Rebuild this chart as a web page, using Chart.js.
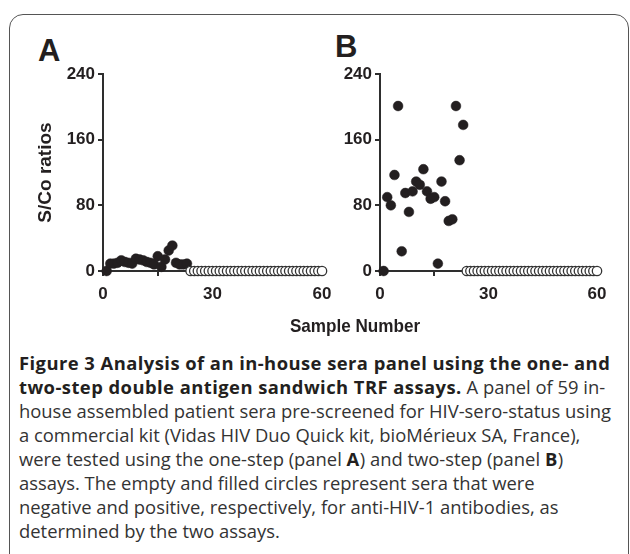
<!DOCTYPE html>
<html>
<head>
<meta charset="utf-8">
<script src="https://cdn.jsdelivr.net/npm/chart.js@4/dist/chart.umd.min.js"></script>
<style>
  html, body { margin: 0; padding: 0; background: #fff; width: 630px; height: 554px; overflow: hidden; }
  #box { position: absolute; left: 9px; top: 14px; width: 618px; height: 620px; border: 1.5px solid #555; border-radius: 14px; }
  .cv { position: absolute; top: 0; }
  .panel { position: absolute; font-family: "Liberation Sans", Arial, sans-serif; font-weight: bold; font-size: 31px; color: #231f20; line-height: 1; }
  #xtitle { position: absolute; left: 255px; width: 200px; text-align: center; top: 315px; font-family: "Liberation Sans", Arial, sans-serif; font-weight: bold; font-size: 19px; color: #231f20; transform: scaleX(0.9); transform-origin: 100px 0; }
  .cap { position: absolute; left: 19px; white-space: nowrap; font-family: "Open Sans", sans-serif; font-size: 18.4px; color: #333333; line-height: 1; }
  .cap b { font-weight: 700; color: #231f20; letter-spacing: 0.45px; }
</style>
</head>
<body>
<div id="box"></div>
<div class="panel" style="left:38px; top:35px;">A</div>
<div class="panel" style="left:335px; top:31px;">B</div>
<canvas id="chartA" class="cv" style="left:0px;" width="340" height="340"></canvas>
<canvas id="chartB" class="cv" style="left:300px;" width="330" height="340"></canvas>
<div id="xtitle">Sample Number</div>
<div class="cap" style="top:354px;"><b>Figure 3 Analysis of an in-house sera panel using the one- and</b></div>
<div class="cap" style="top:378px;"><b>two-step double antigen sandwich TRF assays.</b> A panel of 59 in-</div>
<div class="cap" style="top:402px;">house assembled patient sera pre-screened for HIV-sero-status using</div>
<div class="cap" style="top:426px;">a commercial kit (Vidas HIV Duo Quick kit, bioMérieux SA, France),</div>
<div class="cap" style="top:450px;">were tested using the one-step (panel <b>A</b>) and two-step (panel <b>B</b>)</div>
<div class="cap" style="top:474px;">assays. The empty and filled circles represent sera that were</div>
<div class="cap" style="top:498px;">negative and positive, respectively, for anti-HIV-1 antibodies, as</div>
<div class="cap" style="top:522px;">determined by the two assays.</div>
<script>
// ---- data ----
const positiveSamples = [1, 2, 3, 4, 5, 6, 7, 8, 9, 10, 11, 12, 13, 14, 15, 16, 17, 18, 19, 20, 21, 22, 23];
const oneStepPositive = [0, 9, 9, 10, 13, 11, 10, 9, 15, 14, 13, 11, 10, 8, 18, 5, 14, 25, 31, 10, 8, 8, 9];
const twoStepPositive = [0, 90, 80, 117, 201, 24, 95, 72, 97, 109, 105, 124, 97, 88, 90, 9, 109, 85, 61, 63, 201, 135, 178];
const negativeSamples = [24, 25, 26, 27, 28, 29, 30, 31, 32, 33, 34, 35, 36, 37, 38, 39, 40, 41, 42, 43, 44, 45, 46, 47, 48, 49, 50, 51, 52, 53, 54, 55, 56, 57, 58, 59, 60];
const oneStepNegative = [0, 0, 0, 0, 0, 0, 0, 0, 0, 0, 0, 0, 0, 0, 0, 0, 0, 0, 0, 0, 0, 0, 0, 0, 0, 0, 0, 0, 0, 0, 0, 0, 0, 0, 0, 0, 0];
const twoStepNegative = [0, 0, 0, 0, 0, 0, 0, 0, 0, 0, 0, 0, 0, 0, 0, 0, 0, 0, 0, 0, 0, 0, 0, 0, 0, 0, 0, 0, 0, 0, 0, 0, 0, 0, 0, 0, 0];
const xTickLabels = [0, 30, 60];
const yTickLabels = [0, 80, 160, 240];
const yTitle = "S/Co ratios";

const INK = '#231f20';
const AXIS = '#2e2e2e';
const tickFont = { family: '"Liberation Sans", Arial, sans-serif', weight: 'bold', size: 17 };

function pts(xs, ys) { return xs.map((x, i) => ({ x: x, y: ys[i] })); }

function makeChart(id, pos, neg, yAxisWidth, rightPad, showTitle) {
  return new Chart(document.getElementById(id), {
    type: 'scatter',
    data: {
      datasets: [
        { data: pts(negativeSamples, neg), pointRadius: 4.7, pointHoverRadius: 4.7,
          backgroundColor: '#ffffff', borderColor: '#333333', borderWidth: 1.3, clip: false },
        { data: pts(positiveSamples, pos), pointRadius: 4.9, pointHoverRadius: 4.9,
          backgroundColor: INK, borderColor: INK, borderWidth: 0.5, clip: false }
      ]
    },
    options: {
      responsive: false, animation: false, events: [],
      layout: { padding: { top: 74, right: rightPad, bottom: 0, left: 0 } },
      plugins: { legend: { display: false }, tooltip: { enabled: false } },
      scales: {
        x: {
          type: 'linear', min: 0, max: 60,
          afterFit: s => { s.height = 69; },
          afterBuildTicks: s => { s.ticks = [0, 15, 30, 45, 60].map(v => ({ value: v })); },
          ticks: { font: tickFont, color: INK, padding: 8, maxRotation: 0, autoSkip: false,
                   callback: v => xTickLabels.includes(v) ? String(v) : '' },
          grid: { drawOnChartArea: false, drawTicks: true, tickLength: 5, color: AXIS, lineWidth: 2 },
          border: { display: true, color: AXIS, width: 2 }
        },
        y: {
          type: 'linear', min: 0, max: 240,
          afterFit: s => { s.width = yAxisWidth; },
          afterBuildTicks: s => { s.ticks = yTickLabels.map(v => ({ value: v })); },
          ticks: { font: tickFont, color: INK, padding: 3, callback: v => String(v) },
          grid: { drawOnChartArea: false, drawTicks: true, tickLength: 5, color: AXIS, lineWidth: 2 },
          border: { display: true, color: AXIS, width: 2 },
          title: { display: showTitle, text: yTitle, color: INK,
                   font: { family: '"Liberation Sans", Arial, sans-serif', weight: 'bold', size: 19 },
                   padding: { top: 34.6, bottom: 0 } }
        }
      }
    }
  });
}

makeChart('chartA', oneStepPositive, oneStepNegative, 103, 18, true);
makeChart('chartB', twoStepPositive, twoStepNegative, 80, 33, false);
</script>
</body>
</html>
